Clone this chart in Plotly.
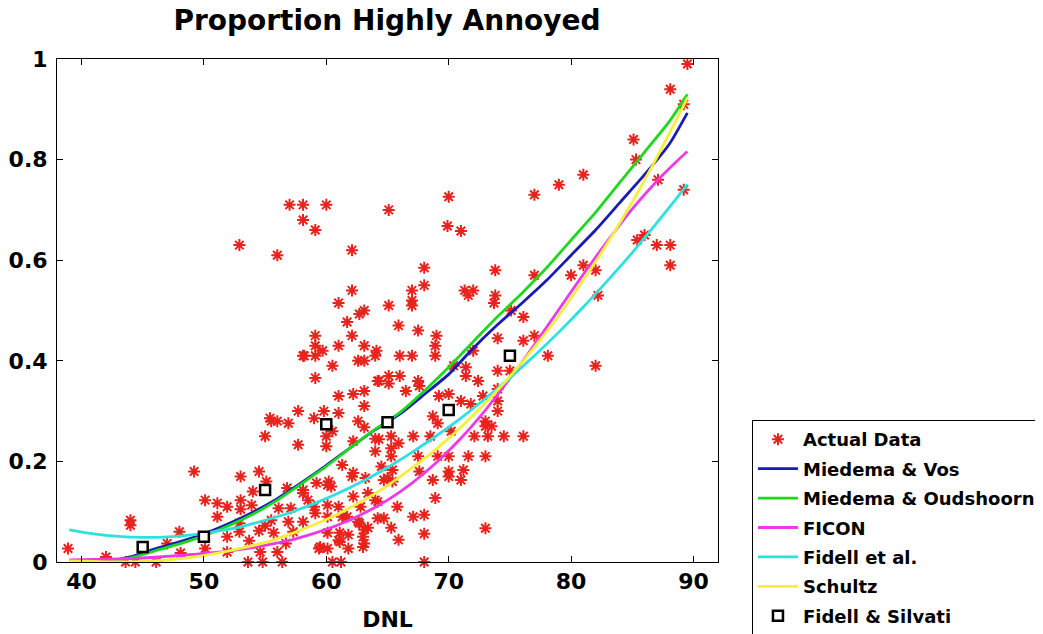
import plotly.graph_objects as go

# ---- Actual data (red stars): DNL and proportion highly annoyed ----
actual_dnl = [
    57.0, 58.1, 60.0, 58.1, 59.1, 52.9, 56.0, 62.1, 62.1, 61.0, 63.1, 62.7, 65.1, 65.1, 70.0, 69.9,
    71.0, 77.0, 79.0, 81.0, 85.1, 85.3, 88.1, 89.5, 89.2, 87.1, 89.2, 86.0, 85.4, 87.0, 88.1, 88.1,
    68.0, 67.0, 67.0, 67.0, 68.0, 71.3, 72.0, 71.6, 73.8, 73.8, 73.7, 77.0, 80.0, 81.0, 82.0, 82.2,
    75.1,
    61.7, 65.9, 62.1, 59.1, 59.1, 59.7, 61.0, 63.1, 64.1, 58.2, 58.1, 59.1, 62.6, 63.1, 64.0, 60.5,
    59.1, 64.2, 65.1, 65.1, 61.0, 62.2, 63.1, 63.1, 57.7, 59.8, 61.0, 66.0, 67.0, 68.9, 67.5, 69.0,
    68.9, 76.1, 74.0, 76.1, 77.0, 78.1, 82.0, 66.0, 64.3, 66.5, 67.5, 67.6, 70.4, 71.4, 71.4, 72.4,
    74.0, 75.0, 69.2, 70.0, 72.8, 71.0, 71.8, 74.0, 74.0, 74.0, 72.0,
    59.0, 55.4, 55.5, 56.0, 56.9, 55.0, 57.7, 60.5, 60.0, 60.0, 62.2, 63.1, 62.6, 64.3, 64.0, 65.3,
    65.3, 64.0, 65.3, 65.9, 67.1, 68.5, 68.7, 69.1, 73.0, 73.0, 73.5, 70.2, 72.1, 73.2, 74.5, 76.1,
    67.5, 69.1, 70.0, 71.6, 73.0, 61.3, 64.5, 65.4, 64.7, 67.6, 70.0, 70.0, 71.2, 71.0, 68.7, 59.2,
    60.4, 60.2, 62.2, 62.1, 65.0, 65.4, 53.0, 54.5, 49.2, 55.1, 63.2,
    54.0, 58.1, 62.2, 63.4, 64.2, 64.0, 65.8, 68.9, 50.1, 51.1, 53.0, 51.9, 53.0, 53.9, 56.1, 57.1,
    51.1, 59.0, 60.1, 58.1, 61.3, 62.6, 63.4, 63.0, 64.7, 65.3, 67.1, 68.0, 65.9, 68.0, 73.0, 60.1,
    61.1, 61.1, 61.8, 63.0, 59.4, 60.1, 61.8, 60.5, 61.2, 57.3, 52.9, 55.0, 54.5, 55.7, 56.9, 51.9,
    52.9, 50.1, 51.9, 53.7, 54.6, 56.0, 56.7, 53.6, 54.8, 56.4, 55.5, 38.9, 44.0, 44.0, 42.0, 43.6,
    44.4, 46.1, 47.0, 48.0, 48.1, 68.0, 64.2, 62.8, 62.7, 63.1, 63.1, 59.1, 58.5, 59.5, 60.1, 61.0,
    61.0, 61.7, 58.1, 56.8, 60.1,
]
actual_pha = [
    0.71, 0.71, 0.71, 0.68, 0.66, 0.63, 0.61, 0.62, 0.54, 0.515, 0.50, 0.493, 0.70, 0.51, 0.726, 0.668,
    0.658, 0.73, 0.75, 0.77, 0.84, 0.80, 0.94, 0.99, 0.91, 0.76, 0.74, 0.65, 0.64, 0.63, 0.63, 0.59,
    0.585, 0.54, 0.52, 0.51, 0.55, 0.54, 0.54, 0.53, 0.58, 0.53, 0.515, 0.57, 0.57, 0.59, 0.58, 0.53,
    0.50,
    0.477, 0.47, 0.45, 0.45, 0.43, 0.42, 0.43, 0.43, 0.42, 0.41, 0.41, 0.41, 0.40, 0.40, 0.41, 0.39,
    0.366, 0.36, 0.37, 0.355, 0.33, 0.334, 0.34, 0.31, 0.30, 0.30, 0.296, 0.41, 0.41, 0.41, 0.46, 0.45,
    0.43, 0.487, 0.445, 0.44, 0.45, 0.41, 0.39, 0.37, 0.36, 0.34, 0.36, 0.35, 0.39, 0.387, 0.37, 0.36,
    0.38, 0.38, 0.33, 0.334, 0.33, 0.32, 0.314, 0.32, 0.30, 0.344, 0.42,
    0.286, 0.286, 0.28, 0.28, 0.276, 0.25, 0.233, 0.26, 0.25, 0.23, 0.24, 0.268, 0.28, 0.244, 0.22, 0.226,
    0.21, 0.245, 0.25, 0.236, 0.25, 0.25, 0.29, 0.276, 0.28, 0.27, 0.27, 0.26, 0.25, 0.25, 0.25, 0.25,
    0.21, 0.21, 0.21, 0.21, 0.21, 0.193, 0.19, 0.183, 0.163, 0.18, 0.18, 0.17, 0.183, 0.163, 0.163, 0.157,
    0.15, 0.16, 0.177, 0.17, 0.167, 0.16, 0.17, 0.18, 0.18, 0.16, 0.167,
    0.14, 0.137, 0.13, 0.137, 0.12, 0.123, 0.11, 0.127, 0.123, 0.117, 0.123, 0.11, 0.105, 0.113, 0.107, 0.107,
    0.09, 0.11, 0.113, 0.08, 0.09, 0.08, 0.068, 0.05, 0.087, 0.068, 0.09, 0.094, 0.044, 0.056, 0.067, 0.058,
    0.058, 0.04, 0.054, 0.03, 0.027, 0.027, 0.027, 0.0, 0.0, 0.06, 0.077, 0.072, 0.062, 0.058, 0.08, 0.05,
    0.06, 0.027, 0.02, 0.042, 0.02, 0.02, 0.037, 0.0, 0.0, 0.0, 0.083, 0.027, 0.083, 0.073, 0.01, 0.0,
    0.0, 0.0, 0.037, 0.06, 0.018, 0.0, 0.087, 0.11, 0.077, 0.064, 0.037, 0.097, 0.123, 0.03, 0.09, 0.11,
    0.043, 0.09, 0.143, 0.147, 0.153,
]

# ---- Dose-response curves ----
dnl_full = [39, 41, 43, 45, 47, 49, 51, 53, 55, 57, 59, 61, 63, 65, 67, 69, 71, 73, 75, 77, 79, 81, 83,
            85, 87, 89, 89.5]
ficon = [0.004, 0.005, 0.006, 0.008, 0.011, 0.015, 0.019, 0.025, 0.033, 0.043, 0.057, 0.074, 0.096,
         0.123, 0.157, 0.198, 0.246, 0.302, 0.365, 0.432, 0.502, 0.572, 0.639, 0.702, 0.757, 0.805, 0.816]
fidell = [0.064, 0.056, 0.051, 0.049, 0.050, 0.054, 0.061, 0.070, 0.083, 0.098, 0.116, 0.137, 0.161,
          0.188, 0.218, 0.251, 0.286, 0.325, 0.366, 0.410, 0.457, 0.507, 0.560, 0.615, 0.674, 0.735, 0.751]
schultz = [0.002, 0.001, 0.000, 0.001, 0.004, 0.009, 0.017, 0.027, 0.039, 0.055, 0.074, 0.096, 0.122,
           0.152, 0.187, 0.225, 0.268, 0.316, 0.369, 0.427, 0.490, 0.560, 0.635, 0.716, 0.804, 0.898, 0.923]

dnl_miedema = [42, 44, 46, 48, 50, 52, 54, 56, 58, 60, 62, 64, 66, 68, 70, 72, 74, 76, 78, 80, 82, 84,
               86, 88, 89.5]
miedema_vos = [0.000, 0.010, 0.026, 0.040, 0.056, 0.076, 0.099, 0.126, 0.158, 0.192, 0.228, 0.263,
               0.294, 0.333, 0.373, 0.425, 0.472, 0.515, 0.560, 0.610, 0.660, 0.715, 0.770, 0.830, 0.893]
miedema_oud = [0.000, 0.008, 0.022, 0.036, 0.052, 0.072, 0.095, 0.123, 0.156, 0.190, 0.228, 0.264,
               0.297, 0.340, 0.387, 0.438, 0.488, 0.535, 0.585, 0.640, 0.695, 0.755, 0.815, 0.875, 0.930]

# ---- Fidell & Silvati (open squares) ----
fs_dnl = [45, 50, 55, 60, 65, 70, 75]
fs_pha = [0.030, 0.050, 0.143, 0.274, 0.278, 0.302, 0.410]

FONT = "DejaVu Sans"

fig = go.Figure()
fig.add_trace(go.Scatter(
    x=actual_dnl, y=actual_pha, mode="markers", name="Actual Data", legendgroup="a",
    cliponaxis=False,
    marker=dict(symbol="asterisk-open", size=10, color="#e8221c",
                line=dict(color="#e8221c", width=2)),
))
curves = [
    ("Miedema & Vos", dnl_miedema, miedema_vos, "#1a1ab4", "b"),
    ("Miedema & Oudshoorn", dnl_miedema, miedema_oud, "#1ed81e", "c"),
    ("FICON", dnl_full, ficon, "#ec3be6", "d"),
    ("Fidell et al.", dnl_full, fidell, "#2ee0e0", "e"),
    ("Schultz", dnl_full, schultz, "#f4ee3c", "f"),
]
for name, xs, ys, col, grp in curves:
    fig.add_trace(go.Scatter(
        x=xs, y=ys, mode="lines", name=name, legendgroup=grp,
        line=dict(color=col, width=2.8, shape="spline", smoothing=0.6),
    ))
fig.add_trace(go.Scatter(
    x=fs_dnl, y=fs_pha, mode="markers", name="Fidell & Silvati", legendgroup="g",
    cliponaxis=False,
    marker=dict(symbol="square", size=10, color="white",
                line=dict(color="black", width=2.5)),
))

axis_common = dict(
    showline=True, linecolor="black", linewidth=1, mirror="ticks",
    ticks="inside", ticklen=6, tickcolor="black", tickwidth=1,
    showgrid=False, zeroline=False, automargin=False,
    tickfont=dict(family=FONT, size=22, color="black", weight="bold"),
)
fig.update_xaxes(range=[38, 92], tickvals=[40, 50, 60, 70, 80, 90],
                 title=dict(text="<b>DNL</b>", font=dict(family=FONT, size=22, color="black"),
                            standoff=18),
                 **axis_common)
fig.update_yaxes(range=[0, 1], tickvals=[0, 0.2, 0.4, 0.6, 0.8, 1],
                 ticktext=["0", "0.2", "0.4", "0.6", "0.8", "1"], ticklabelstandoff=4,
                 **axis_common)

# the page adds an 8 px offset, so margins/positions are compensated by 8 px
fig.update_layout(
    width=1043, height=634,
    paper_bgcolor="white", plot_bgcolor="white",
    margin=dict(l=49, r=333, t=51, b=80),
    title=dict(text="<b>Proportion Highly Annoyed</b>", xref="container", x=0.3634,
               xanchor="center", yref="container", y=0.997, yanchor="top",
               font=dict(family=FONT, size=28, color="black"), automargin=False),
    legend=dict(xref="container", yref="container", x=0.7133, xanchor="left",
                y=0.350, yanchor="top",
                bgcolor="white", bordercolor="black", borderwidth=1,
                font=dict(family=FONT, size=18, color="black", weight="bold"),
                tracegroupgap=3, itemwidth=40),
    showlegend=True,
)

fig.write_html("out.html")
